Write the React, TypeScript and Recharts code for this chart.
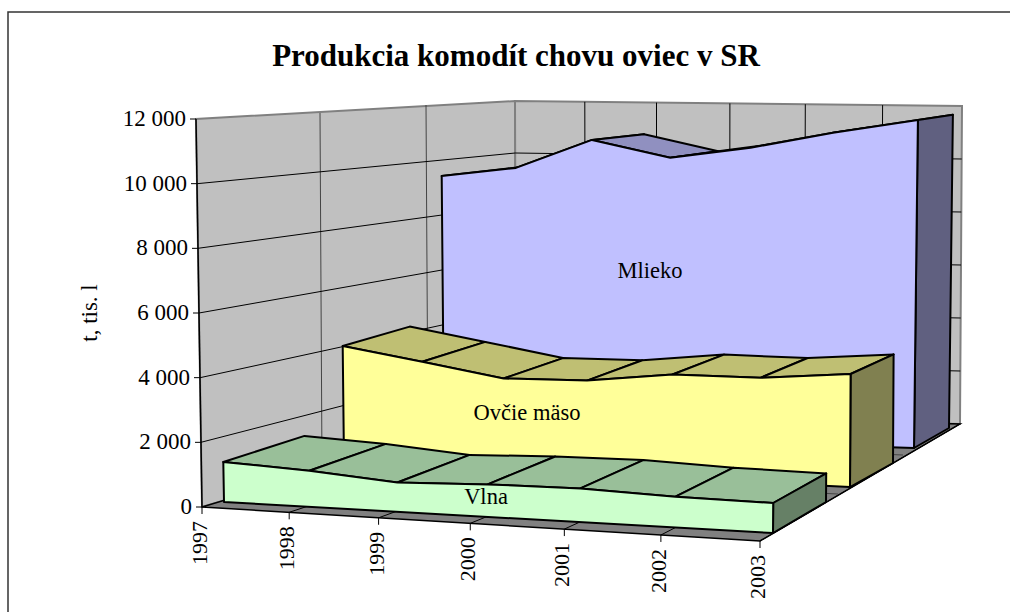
import { LineChart, Line, XAxis, YAxis, CartesianGrid } from 'recharts'

const years = ['1997', '1998', '1999', '2000', '2001', '2002', '2003']
const mlieko = [9230, 9610, 10700, 10150, 10600, 11230, 11780]
const maso = [3910, 3510, 3080, 3150, 3495, 3530, 3810]
const vlna = [1253, 1134, 918, 1018, 1056, 965, 940]
const yTicks = [0, 2000, 4000, 6000, 8000, 10000, 12000]

const chartData = years.map((year, i) => ({ year, mlieko: mlieko[i], maso: maso[i], vlna: vlna[i] }))

const FONT = '"Liberation Serif", serif'

// flat plot rectangle of the chart, its scales get re-projected into the 3D box
const PLOT = { x: 100, y: 100, w: 800, h: 400 }
const toU = (x: number) => (x - PLOT.x) / PLOT.w
const toV = (y: number) => (PLOT.y + PLOT.h - y) / PLOT.h

type Pt = [number, number]
type Plane = { bl: Pt; br: Pt; tl: Pt; tr: Pt }

const FRONT: Plane = { bl: [202, 507], br: [760, 541], tl: [196, 119], tr: [765, 152] }
const BACK: Plane = { bl: [516, 413], br: [960, 424], tl: [515, 101], tr: [962, 106] }
const MID1: Plane = { bl: [322, 469], br: [838, 494], tl: [320, 113], tr: [840, 130] }
const MID2: Plane = { bl: [428, 436], br: [903, 455], tl: [426, 105], tr: [906, 118] }

const lerp = (a: Pt, b: Pt, t: number): Pt => [a[0] + (b[0] - a[0]) * t, a[1] + (b[1] - a[1]) * t]
// categories get slightly wider to the right, as in the perspective of the original
const persp = (u: number) => u / (u + (1 - u) * 1.08)
const project = (p: Plane, u: number, v: number): Pt => {
  const k = persp(u)
  return lerp(lerp(p.bl, p.br, k), lerp(p.tl, p.tr, k), v)
}
const poly = (pts: Pt[]) => pts.map((p) => `${p[0].toFixed(1)},${p[1].toFixed(1)}`).join(' ')

const seriesList = [
  {
    key: 'mlieko',
    label: 'Mlieko',
    labelAt: [650, 278] as Pt,
    front: '#C0C0FF',
    top: '#9090C0',
    side: '#606080',
    near: { bl: [444, 433], br: [914, 448], tl: [441, 99], tr: [918, 114] } as Plane,
    far: { bl: [504, 417], br: [949, 428], tl: [501, 95], tr: [953, 109] } as Plane
  },
  {
    key: 'maso',
    label: 'Ovčie mäso',
    labelAt: [527, 420] as Pt,
    front: '#FFFF99',
    top: '#BFBF73',
    side: '#808050',
    near: { bl: [344, 462], br: [850, 487], tl: [340, 106], tr: [852, 131] } as Plane,
    far: { bl: [411, 438], br: [893, 463], tl: [407, 96], tr: [895, 121] } as Plane
  },
  {
    key: 'vlna',
    label: 'Vlna',
    labelAt: [486, 504] as Pt,
    front: '#CCFFCC',
    top: '#99BF99',
    side: '#668066',
    near: { bl: [224, 502], br: [773, 533], tl: [217, 119], tr: [775, 150] } as Plane,
    far: { bl: [305, 474], br: [826, 502], tl: [300, 109], tr: [828, 137] } as Plane
  }
]

const edge = { stroke: '#000', strokeWidth: 2, strokeLinejoin: 'round' as const }

const seriesDot = (s: (typeof seriesList)[number]) => {
  const pts: Pt[] = []
  return ({ cx, cy, index }: any) => {
    pts[index] = [toU(cx), toV(cy)]
    if (index < years.length - 1) return <g key={index} />
    const near = pts.map(([u, v]) => project(s.near, u, v))
    const far = pts.map(([u, v]) => project(s.far, u, v))
    const last = pts[pts.length - 1]
    return (
      <g key={index}>
        {pts.slice(1).map((_, i) => (
          <polygon key={i} points={poly([near[i], near[i + 1], far[i + 1], far[i]])} fill={s.top} {...edge} />
        ))}
        <polygon
          points={poly([near[near.length - 1], far[far.length - 1], project(s.far, last[0], 0), project(s.near, last[0], 0)])}
          fill={s.side}
          {...edge}
        />
        <polygon
          points={poly([project(s.near, pts[0][0], 0), ...near, project(s.near, last[0], 0)])}
          fill={s.front}
          {...edge}
        />
        <text x={s.labelAt[0]} y={s.labelAt[1]} textAnchor="middle" fontSize={22.5} fontFamily={FONT} fill="#000">
          {s.label}
        </text>
      </g>
    )
  }
}

const YTick = ({ y, payload }: any) => {
  const [px, py] = project(FRONT, 0, toV(y))
  return (
    <g>
      <line x1={px - 6} y1={py} x2={px} y2={py} stroke="#000" />
      <text x={px - 10} y={py + 7} textAnchor="end" fontSize={23} fontFamily={FONT} fill="#000">
        {String(payload.value).replace(/\B(?=(\d{3})+$)/g, ' ')}
      </text>
    </g>
  )
}

const XTick = ({ x, payload }: any) => {
  const [px, py] = project(FRONT, toU(x), 0)
  return (
    <g>
      <line x1={px} y1={py} x2={px} y2={py + 7} stroke="#000" />
      <text
        transform={`translate(${px + 5},${py + 14}) rotate(-90)`}
        textAnchor="end"
        fontSize={22}
        fontFamily={FONT}
        fill="#000"
      >
        {payload.value}
      </text>
    </g>
  )
}

const gridLine = (a: Pt, b: Pt, c: Pt) => <polyline points={poly([a, b, c])} fill="none" stroke="#000" strokeWidth={1} />

const Walls = () => (
  <svg width={1010} height={612} style={{ position: 'absolute', left: 0, top: 0 }}>
    <rect x={8} y={12} width={1100} height={700} fill="#fff" stroke="#333" strokeWidth={1.5} />
    <text x={516} y={66} textAnchor="middle" fontSize={31} fontWeight="bold" fontFamily={FONT} fill="#000">
      Produkcia komodít chovu oviec v SR
    </text>
    <text transform="translate(97,313) rotate(-90)" textAnchor="middle" fontSize={23} fontFamily={FONT} fill="#000">
      t, tis. l
    </text>
    <polygon points={poly([FRONT.bl, BACK.bl, BACK.tl, FRONT.tl])} fill="#C0C0C0" stroke="#808080" strokeWidth={2} />
    <polygon points={poly([BACK.bl, BACK.br, BACK.tr, BACK.tl])} fill="#C0C0C0" stroke="#808080" strokeWidth={2} />
    <polygon points={poly([FRONT.bl, FRONT.br, BACK.br, BACK.bl])} fill="#808080" stroke="#000" strokeWidth={1.5} />
    {[MID1, MID2].map((p, i) => (
      <polyline key={i} points={poly([p.tl, p.bl, p.br])} fill="none" stroke="#444" strokeWidth={1} />
    ))}
    <line x1={FRONT.tl[0]} y1={FRONT.tl[1]} x2={FRONT.bl[0]} y2={FRONT.bl[1]} stroke="#000" strokeWidth={1.5} />
  </svg>
)

const App = () => {
  return (
    <div style={{ position: 'absolute', left: 0, top: 0, width: 1010, height: 612, overflow: 'hidden' }}>
      <Walls />
      <div style={{ position: 'absolute', left: 0, top: 0 }}>
        <LineChart
          width={1010}
          height={612}
          data={chartData}
          margin={{ left: PLOT.x - 1, top: PLOT.y, right: 1010 - PLOT.x - PLOT.w, bottom: 612 - PLOT.y - PLOT.h - 1 }}
        >
          <CartesianGrid
            stroke="none"
            horizontal={({ y1 }: any) => {
              const v = toV(y1)
              if (v < 0.01 || v > 0.99) return <g />
              return gridLine(project(FRONT, 0, v), project(BACK, 0, v), project(BACK, 1, v))
            }}
            vertical={({ x1 }: any) => {
              const u = toU(x1)
              if (u < 0.01) return <g />
              return gridLine(project(FRONT, u, 0), project(BACK, u, 0), project(BACK, u, u > 0.99 ? 0 : 1))
            }}
          />
          <XAxis dataKey="year" height={1} axisLine={false} tickLine={false} interval={0} tick={<XTick />} />
          <YAxis
            width={1}
            domain={[0, 12000]}
            ticks={yTicks}
            axisLine={false}
            tickLine={false}
            tick={<YTick />}
          />
          {seriesList.map((s) => (
            <Line
              key={s.key}
              dataKey={s.key}
              stroke="none"
              dot={seriesDot(s)}
              activeDot={false}
              isAnimationActive={false}
            />
          ))}
        </LineChart>
      </div>
    </div>
  )
}

export default App
